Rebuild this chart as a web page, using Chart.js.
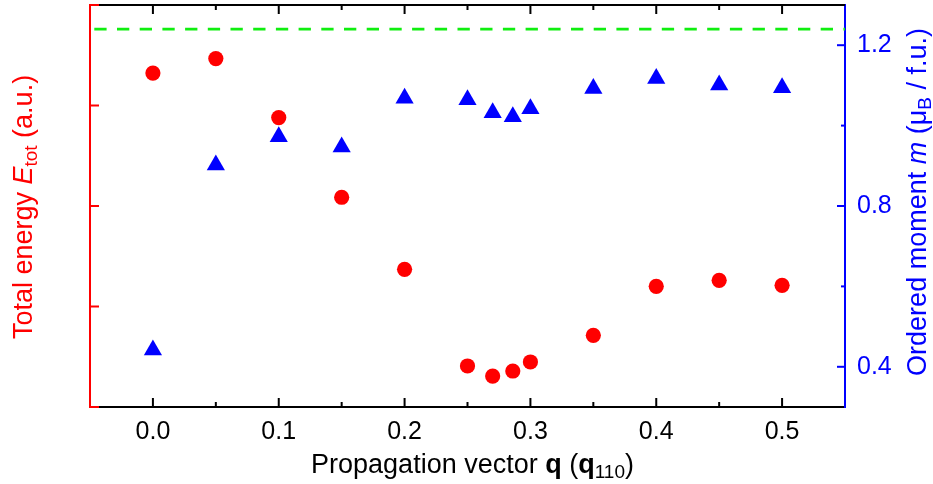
<!DOCTYPE html>
<html>
<head>
<meta charset="utf-8">
<script src="https://cdn.jsdelivr.net/npm/chart.js@4.4.1/dist/chart.umd.min.js"></script>
<style>
  html, body { margin: 0; padding: 0; background: #fff; }
  #wrap { width: 933px; height: 484px; }
</style>
</head>
<body>
<div id="wrap"><canvas id="qScan"></canvas></div>
<script>
// propagation vector q in units of q110
var qValues = [0, 0.05, 0.1, 0.15, 0.2, 0.25, 0.27, 0.286, 0.3, 0.35, 0.4, 0.45, 0.5];
// total energy, arbitrary units (left axis)
var totalEnergy = [3.323, 3.467, 2.880, 2.087, 1.370, 0.408, 0.308, 0.358, 0.448, 0.713, 1.201, 1.260, 1.211];
// ordered moment in muB per f.u. (right axis)
var orderedMoment = [0.442, 0.902, 0.972, 0.947, 1.068, 1.064, 1.032, 1.022, 1.042, 1.092, 1.117, 1.101, 1.094];
// reference moment drawn as the dashed line
var momentRef = 1.24;

var qTicks = [0, 0.1, 0.2, 0.3, 0.4, 0.5];
var qMinorTicks = [0.05, 0.15, 0.25, 0.35, 0.45];
var momentTicks = [0.4, 0.8, 1.2];
var momentMinorTicks = [0.6, 1.0];
var energyTicks = [0, 1, 2, 3, 4];

var FONT = '"Liberation Sans", Arial, Helvetica, sans-serif';
var RED = '#ff0000';
var BLUE = '#0000ff';
var GREEN = '#10ee10';

function asTicks(list) {
    return list.map(function (v) { return { value: v }; });
}

// keep the tick labels from shrinking the plot area
function noLabelPadding(axis) {
    axis.paddingTop = 0;
    axis.paddingBottom = 0;
    axis.paddingLeft = 0;
    axis.paddingRight = 0;
}

// draws a line of text made of several styled pieces, centred on (cx, cy)
function drawPieces(ctx, pieces, cx, cy, angle, color) {
    ctx.save();
    ctx.translate(cx, cy);
    ctx.rotate(angle);
    ctx.fillStyle = color;
    ctx.textBaseline = 'alphabetic';
    ctx.textAlign = 'left';
    var total = 0;
    pieces.forEach(function (p) {
        ctx.font = p.font;
        p.w = ctx.measureText(p.text).width;
        total += p.w;
    });
    var x = -total / 2;
    pieces.forEach(function (p) {
        ctx.font = p.font;
        ctx.fillText(p.text, x, p.dy || 0);
        x += p.w;
    });
    ctx.restore();
}

var frame = {
    id: 'frame',
    afterDatasetsDraw: function (chart) {
        var ctx = chart.ctx;
        var area = chart.chartArea;
        var xs = chart.scales.x;
        var ym = chart.scales.yM;
        var ye = chart.scales.yE;

        ctx.save();
        ctx.lineWidth = 2;

        // top border
        ctx.strokeStyle = '#000';
        ctx.beginPath();
        ctx.moveTo(area.left, area.top);
        ctx.lineTo(area.right, area.top);
        ctx.stroke();

        // inward ticks on bottom and top
        function xTick(v, len) {
            var px = xs.getPixelForValue(v);
            ctx.beginPath();
            ctx.moveTo(px, area.bottom);
            ctx.lineTo(px, area.bottom - len);
            ctx.moveTo(px, area.top);
            ctx.lineTo(px, area.top + len);
            ctx.stroke();
        }
        qTicks.forEach(function (v) { xTick(v, 9); });
        qMinorTicks.forEach(function (v) { xTick(v, 5); });

        // right axis ticks
        ctx.strokeStyle = BLUE;
        function mTick(v, len) {
            var py = ym.getPixelForValue(v);
            ctx.beginPath();
            ctx.moveTo(area.right, py);
            ctx.lineTo(area.right - len, py);
            ctx.stroke();
        }
        momentTicks.forEach(function (v) { mTick(v, 8); });
        momentMinorTicks.forEach(function (v) { mTick(v, 4); });

        // left axis ticks
        ctx.strokeStyle = RED;
        energyTicks.forEach(function (v) {
            var py = ye.getPixelForValue(v);
            ctx.beginPath();
            ctx.moveTo(area.left, py);
            ctx.lineTo(area.left + 9, py);
            ctx.stroke();
        });
        ctx.restore();
    },
    afterDraw: function (chart) {
        var ctx = chart.ctx;
        var area = chart.chartArea;
        var midY = (area.top + area.bottom) / 2;

        drawPieces(ctx, [
            { text: 'Propagation vector ', font: '27px ' + FONT },
            { text: 'q', font: 'bold 27px ' + FONT },
            { text: ' (', font: '27px ' + FONT },
            { text: 'q', font: 'bold 27px ' + FONT },
            { text: '110', font: '19px ' + FONT, dy: 5 },
            { text: ')', font: '27px ' + FONT }
        ], (area.left + area.right) / 2 + 5, 473, 0, '#000');

        drawPieces(ctx, [
            { text: 'Total energy ', font: '27px ' + FONT },
            { text: 'E', font: 'italic 27px ' + FONT },
            { text: 'tot', font: '19px ' + FONT, dy: 5 },
            { text: ' (a.u.)', font: '27px ' + FONT }
        ], 32, midY + 1, -Math.PI / 2, RED);

        drawPieces(ctx, [
            { text: 'Ordered moment ', font: '27px ' + FONT },
            { text: 'm', font: 'italic 27px ' + FONT },
            { text: ' (\u03bc', font: '27px ' + FONT },
            { text: 'B', font: '19px ' + FONT, dy: 5 },
            { text: ' / f.u.)', font: '27px ' + FONT }
        ], 926, midY - 4, -Math.PI / 2, BLUE);
    }
};

var ctx = document.getElementById('qScan').getContext('2d');
var qScan = new Chart(ctx, {
    type: 'scatter',
    data: {
        datasets: [{
            label: 'E_tot',
            data: qValues.map(function (q, i) { return { x: q, y: totalEnergy[i] }; }),
            yAxisID: 'yE',
            pointStyle: 'circle',
            pointRadius: 7.6,
            borderWidth: 0,
            backgroundColor: RED
        }, {
            label: 'm',
            data: qValues.map(function (q, i) { return { x: q, y: orderedMoment[i] }; }),
            yAxisID: 'yM',
            pointStyle: 'triangle',
            pointRadius: 10.5,
            borderWidth: 0,
            backgroundColor: BLUE
        }, {
            label: 'm ref',
            type: 'line',
            data: [{ x: -0.05, y: momentRef }, { x: 0.55, y: momentRef }],
            yAxisID: 'yM',
            borderColor: GREEN,
            borderWidth: 2.6,
            borderDash: [12.3, 10.4],
            borderDashOffset: 18.4,
            pointRadius: 0,
            fill: false
        }]
    },
    options: {
        responsive: true,
        maintainAspectRatio: false,
        animation: false,
        devicePixelRatio: 1,
        layout: { autoPadding: false, padding: { left: 90, right: 0, top: 5, bottom: 0 } },
        plugins: {
            legend: { display: false },
            tooltip: { enabled: false }
        },
        scales: {
            x: {
                type: 'linear',
                position: 'bottom',
                min: -0.05,
                max: 0.55,
                afterBuildTicks: function (axis) { axis.ticks = asTicks(qTicks); },
                afterFit: function (axis) { axis.height = 77; noLabelPadding(axis); },
                grid: { display: false, drawTicks: false },
                border: { display: true, color: '#000', width: 2 },
                ticks: {
                    color: '#000',
                    padding: 10,
                    font: { family: FONT, size: 25 },
                    callback: function (v) { return v.toFixed(1); }
                }
            },
            yE: {
                type: 'linear',
                position: 'left',
                min: 0,
                max: 4,
                afterFit: function (axis) { axis.width = 0; noLabelPadding(axis); },
                grid: { display: false, drawTicks: false },
                border: { display: true, color: RED, width: 2 },
                ticks: { display: false }
            },
            yM: {
                type: 'linear',
                position: 'right',
                min: 0.3,
                max: 1.3,
                afterBuildTicks: function (axis) { axis.ticks = asTicks(momentTicks); },
                afterFit: function (axis) { axis.width = 88; noLabelPadding(axis); },
                grid: { display: false, drawTicks: false },
                border: { display: true, color: BLUE, width: 2 },
                ticks: {
                    color: BLUE,
                    padding: 12,
                    font: { family: FONT, size: 25 },
                    callback: function (v) { return v.toFixed(1); }
                }
            }
        }
    },
    plugins: [frame]
});
</script>
</body>
</html>
